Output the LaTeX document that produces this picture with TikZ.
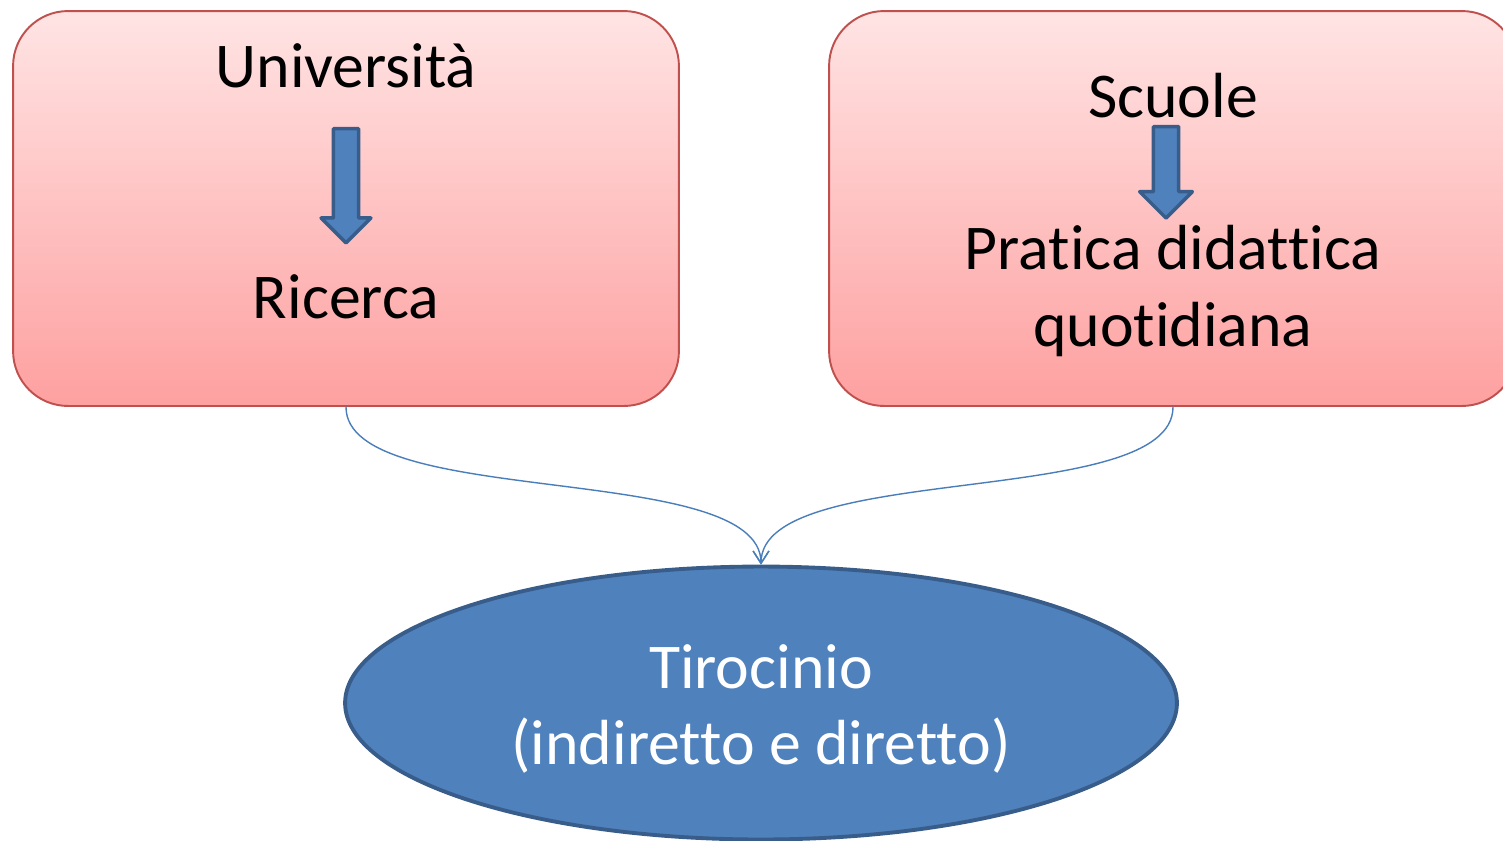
\documentclass[tikz,border=0pt]{standalone}
\usepackage{fontspec}
\setmainfont{Carlito}[Ligatures=NoCommon]
\usetikzlibrary{arrows.meta}
\usetikzlibrary{shapes.geometric}
\usetikzlibrary{shapes.arrows}

\definecolor{boxtop}{RGB}{255,228,228}
\definecolor{boxbottom}{RGB}{254,160,160}
\definecolor{boxline}{RGB}{192,80,77}
\definecolor{bluefill}{RGB}{79,129,189}
\definecolor{blueline}{RGB}{56,93,138}
\definecolor{curveline}{RGB}{74,126,187}

\tikzset{
  redbox/.style={draw=boxline,line width=1.1pt,rounded corners=1.1cm,
    top color=boxtop,bottom color=boxbottom,inner sep=0pt},
  bigtext/.style={font=\fontsize{36.3}{43.5}\selectfont,align=center,inner sep=0pt},
  downarrow/.style={single arrow,draw=blueline,fill=bluefill,line width=2pt,
    rotate=-90,inner sep=0pt,inner ysep=6.2pt,single arrow head extend=7pt,
    shape border uses incircle=false},
  linkarrow/.style={draw=curveline,line width=0.8pt,
    -{Straight Barb[length=7pt,width=9pt]}}
}

\begin{document}
\begin{tikzpicture}[line cap=round,line join=round,x=0.02cm,y=-0.02cm]
\useasboundingbox (0,0) rectangle (1503,840);
\clip (0,0) rectangle (1503,840);

% boxes
\node[redbox,minimum width=13.32cm,minimum height=7.9cm] (uni) at (346,208.5) {};
\node[redbox,minimum width=13.76cm,minimum height=7.9cm] (scuole) at (1173,208.5) {};

% texts
\node[bigtext] (unitext) at (346,66) {Università};
\node[bigtext] (ricerca) at (346,297) {Ricerca};
\node[bigtext] (scuoletext) at (1173,96) {Scuole};
\node[bigtext] (pratica) at (1173,291) {Pratica didattica\\quotidiana};

% block arrows
\node[downarrow,minimum height=65pt] (arr1) at (346,179.5) {};
\node[downarrow,minimum height=52pt,single arrow head extend=7.8pt] (arr2) at (1166,166) {};

% ellipse
\node[ellipse,draw=blueline,fill=bluefill,line width=2.2pt,
  minimum width=16.64cm,minimum height=5.46cm,inner sep=0pt] (tiro) at (761,703) {};
\node[bigtext,text=white] (tirotext) at (761,709) {Tirocinio\\(indiretto e diretto)};

% links
\draw[linkarrow] (uni.south) .. controls (346,510) and (761,460) .. (tiro.north);
\draw[linkarrow] (scuole.south) .. controls (1173,510) and (761,460) .. (tiro.north);
\end{tikzpicture}
\end{document}
